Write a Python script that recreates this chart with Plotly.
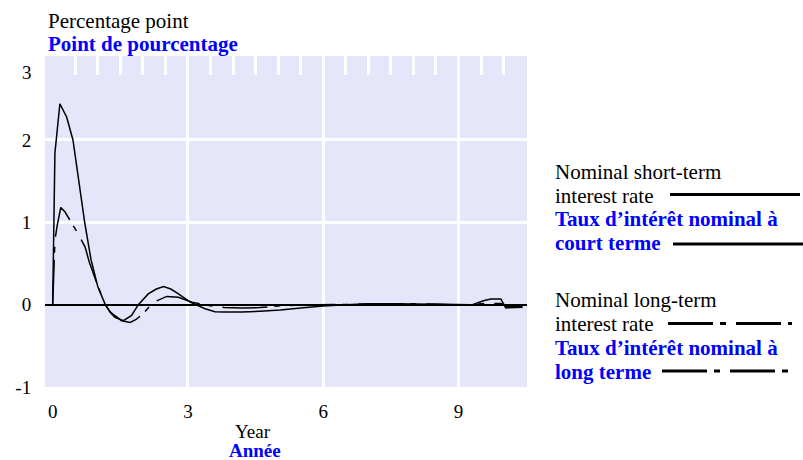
import plotly.graph_objects as go

# ---- data ----
years_short = [0, 0.05, 0.16, 0.31, 0.45, 0.58, 0.71, 0.85, 1.0, 1.16, 1.27, 1.38,
               1.57, 1.75, 1.9, 2.12, 2.3, 2.46, 2.62, 2.79, 3.05, 3.38, 3.6, 3.8,
               4.2, 4.6, 5.05, 5.5, 6.0, 6.5, 7.0, 7.5, 8.0, 8.5, 9.0, 9.31, 9.57,
               9.72, 9.94, 10.05, 10.42]
short_rate = [0, 1.84, 2.44, 2.28, 2.0, 1.5, 1.0, 0.55, 0.22, 0.01, -0.09, -0.155,
              -0.195, -0.13, 0.0, 0.13, 0.19, 0.22, 0.19, 0.13, 0.03, -0.05, -0.085,
              -0.09, -0.09, -0.08, -0.065, -0.04, -0.015, 0.0, 0.01, 0.01, 0.01,
              0.005, -0.005, 0.0, 0.05, 0.07, 0.07, -0.04, -0.03]

years_long = [0, 0.05, 0.1, 0.18, 0.27, 0.5, 0.72, 0.81, 0.94, 1.05, 1.16, 1.3,
              1.53, 1.72, 1.85, 2.01, 2.24, 2.53, 2.79, 3.09, 3.46, 3.8, 4.2, 4.6,
              5.0, 5.5, 6.0, 6.5, 7.0, 7.5, 8.0, 8.5, 9.0, 9.3, 9.6, 9.95, 10.05, 10.42]
long_rate = [0, 0.78, 0.96, 1.18, 1.13, 0.92, 0.70, 0.52, 0.32, 0.15, 0.0, -0.1,
             -0.195, -0.216, -0.18, -0.106, 0.03, 0.10, 0.09, 0.03, -0.01, -0.035,
             -0.04, -0.035, -0.015, -0.005, 0.0, 0.005, 0.01, 0.01, 0.01, 0.005,
             0.0, 0.0, 0.015, 0.015, -0.025, -0.025]

x_ticks = [0, 3, 6, 9]
x_tick_labels = ["0", "3", "6", "9"]
y_ticks = [-1, 0, 1, 2, 3]
y_tick_labels = ["-1", "0", "1", "2", ""]
top_ticks = [0.5, 1, 1.5, 2, 2.5, 3, 3.5, 4, 4.5, 5, 5.5, 6, 6.5, 7, 7.5, 8, 8.5,
             9, 9.5, 10]

FONT = "Liberation Serif"
BLUE = "#0000ff"
BG = "#e6e6fa"
DASH = "45px,7px,6px,10px"

W, H = 803, 460
L, R, T, B = 45, 276, 56, 73
PW, PH = W - L - R, H - T - B


def px(x):
    return (x - L) / PW


def py(y):
    return (H - B - y) / PH


fig = go.Figure()
fig.add_trace(go.Scatter(x=years_short, y=short_rate, mode="lines",
                         line=dict(color="black", width=1.5),
                         showlegend=False, hoverinfo="skip"))
fig.add_trace(go.Scatter(x=years_long, y=long_rate, mode="lines",
                         line=dict(color="black", width=1.5, dash=DASH),
                         showlegend=False, hoverinfo="skip"))

fig.update_layout(
    width=W, height=H,
    margin=dict(l=L, r=R, t=T, b=B, pad=0),
    paper_bgcolor="white",
    plot_bgcolor=BG,
    font=dict(family=FONT, size=19, color="black"),
    showlegend=False,
    xaxis=dict(range=[-0.17, 10.52], tickvals=x_ticks, ticktext=x_tick_labels,
               showgrid=False, zeroline=False, showline=False,
               ticks="outside", ticklen=7, tickcolor="rgba(0,0,0,0)",
               minor=dict(tickvals=[3, 6, 9], showgrid=True, gridcolor="white",
                          gridwidth=3, ticks=""),
               tickfont=dict(family=FONT, size=19, color="black")),
    xaxis2=dict(range=[-0.17, 10.52], overlaying="x", side="top",
                tickvals=top_ticks, showticklabels=False, ticks="inside",
                ticklen=19, tickwidth=3, tickcolor="white", showgrid=False,
                zeroline=False, showline=False),
    yaxis=dict(range=[-1, 3.02], tickvals=y_ticks, ticktext=y_tick_labels,
               showgrid=False, zeroline=True, zerolinecolor="black",
               zerolinewidth=1.5, showline=False,
               ticks="outside", ticklen=9, tickcolor="rgba(0,0,0,0)",
               minor=dict(tickvals=[1, 2], showgrid=True, gridcolor="white",
                          gridwidth=3, ticks=""),
               tickfont=dict(family=FONT, size=19, color="black")),
)

# invisible trace to anchor top axis
fig.add_trace(go.Scatter(x=[0], y=[0], xaxis="x2", mode="markers",
                         marker=dict(opacity=0), showlegend=False,
                         hoverinfo="skip"))

ann = []


def add_text(text, x, y, color="black", bold=False, size=21, xanchor="left"):
    t = f"<b>{text}</b>" if bold else text
    ann.append(dict(text=t, x=px(x), y=py(y), xref="paper", yref="paper",
                    xanchor=xanchor, yanchor="middle", showarrow=False,
                    font=dict(family=FONT, size=size, color=color)))


add_text("Percentage point", 46, 21)
add_text("Point de pourcentage", 46, 44, color=BLUE, bold=True)
add_text("3", 34, 72, size=19, xanchor="right")
add_text("Year", 253, 431, size=19, xanchor="center")
add_text("Année", 255, 450, color=BLUE, bold=True, size=19, xanchor="center")

add_text("Nominal short-term", 553, 172)
add_text("interest rate", 553, 196)
add_text("Taux d’intérêt nominal à", 553, 219, color=BLUE, bold=True)
add_text("court terme", 553, 243, color=BLUE, bold=True)
add_text("Nominal long-term", 553, 300)
add_text("interest rate", 553, 324)
add_text("Taux d’intérêt nominal à", 553, 348, color=BLUE, bold=True)
add_text("long terme", 553, 372, color=BLUE, bold=True)

fig.update_layout(annotations=ann)

shapes = []


def add_line(x0, x1, y, dash="solid"):
    shapes.append(dict(type="line", xref="paper", yref="paper",
                       x0=px(x0), x1=px(x1), y0=py(y), y1=py(y),
                       line=dict(color="black", width=3, dash=dash)))


add_line(670, 800, 194.5)
add_line(673, 803, 244)
add_line(668, 792, 323.5, DASH)
add_line(662, 792, 371, DASH)
fig.update_layout(shapes=shapes)

fig.write_html("out.html")
